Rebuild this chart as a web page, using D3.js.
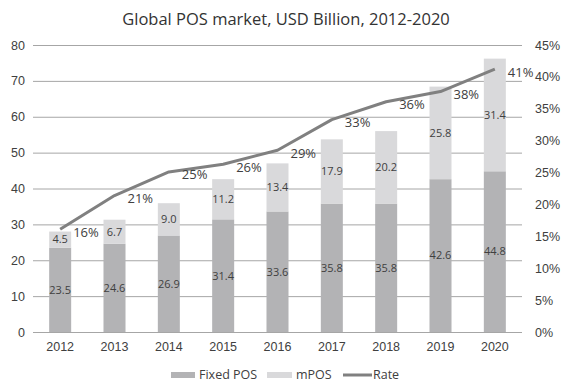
<!DOCTYPE html>
<html>
<head>
<meta charset="utf-8">
<script src="https://cdn.jsdelivr.net/npm/d3@7"></script>
<style>
  html, body { margin: 0; padding: 0; background: #fff; }
  svg { display: block; font-family: "Open Sans", "Noto Sans", sans-serif; }
</style>
</head>
<body>
<svg id="chart" width="570" height="390"></svg>
<script>
const years = ["2012","2013","2014","2015","2016","2017","2018","2019","2020"];
const fixedPOS = [23.5, 24.6, 26.9, 31.4, 33.6, 35.8, 35.8, 42.6, 44.8];
const mPOS = [4.5, 6.7, 9.0, 11.2, 13.4, 17.9, 20.2, 25.8, 31.4];
const rate = [16.1, 21.4, 25.1, 26.3, 28.5, 33.3, 36.1, 37.7, 41.2];
const rateLabels = ["16%","21%","25%","26%","29%","33%","36%","38%","41%"];
const leftTicks = [0, 10, 20, 30, 40, 50, 60, 70, 80];
const rightTicks = [0, 5, 10, 15, 20, 25, 30, 35, 40, 45];
const title = "Global POS market, USD Billion, 2012-2020";

const svg = d3.select("#chart");
const L = 33, R = 522, T = 45, B = 332;
const textColor = "#404040";
const cFixed = "#b3b3b5", cM = "#d9d9db", cLine = "#808080", cGrid = "#a6a6a6";

const x = d3.scaleBand().domain(years).range([L, R]).paddingInner(0.595).paddingOuter(0.2975);
const y = d3.scaleLinear().domain([0, 80]).range([B, T]);
const yR = d3.scaleLinear().domain([0, 45]).range([B, T]);

// title
svg.append("text").attr("x", 286).attr("y", 25).attr("text-anchor", "middle")
  .attr("font-size", 16.5).attr("fill", "#333").text(title);

// gridlines
const grid = svg.append("g").attr("transform", `translate(${L},0)`)
  .call(d3.axisLeft(y).tickValues(leftTicks).tickSize(-(R - L)).tickFormat(""));
grid.select(".domain").remove();
grid.selectAll("line").attr("stroke", cGrid).attr("stroke-width", 1);

// left axis labels
const la = svg.append("g").attr("transform", `translate(${L},0)`)
  .call(d3.axisLeft(y).tickValues(leftTicks).tickSize(0).tickPadding(8));
la.select(".domain").remove();
la.selectAll("text").attr("font-size", 12.5).attr("fill", textColor).style("font-family", "inherit");

// right axis labels
const ra = svg.append("g").attr("transform", `translate(${R},0)`)
  .call(d3.axisRight(yR).tickValues(rightTicks).tickSize(0).tickPadding(13).tickFormat(d => d + "%"));
ra.select(".domain").remove();
ra.selectAll("text").attr("font-size", 12.5).attr("fill", textColor).style("font-family", "inherit");

// x axis labels
const xa = svg.append("g").attr("transform", `translate(0,${B})`)
  .call(d3.axisBottom(x).tickSize(0).tickPadding(10));
xa.select(".domain").remove();
xa.selectAll("text").attr("font-size", 12.5).attr("fill", textColor).style("font-family", "inherit");

// bars
const bars = svg.append("g");
years.forEach((yr, i) => {
  const f = fixedPOS[i], m = mPOS[i];
  bars.append("rect").attr("x", x(yr)).attr("width", x.bandwidth())
    .attr("y", y(f)).attr("height", y(0) - y(f)).attr("fill", cFixed);
  bars.append("rect").attr("x", x(yr)).attr("width", x.bandwidth())
    .attr("y", y(f + m)).attr("height", y(f) - y(f + m)).attr("fill", cM);
  bars.append("text").attr("x", x(yr) + x.bandwidth() / 2).attr("y", y(f / 2))
    .attr("dy", "0.35em").attr("text-anchor", "middle").attr("font-size", 11)
    .attr("fill", textColor).text(f.toFixed(1));
  bars.append("text").attr("x", x(yr) + x.bandwidth() / 2).attr("y", y(f + m / 2))
    .attr("dy", "0.35em").attr("text-anchor", "middle").attr("font-size", 11)
    .attr("fill", textColor).text(m.toFixed(1));
});

// rate line
const cx = d => x(d) + x.bandwidth() / 2;
const line = d3.line().x((d, i) => cx(years[i])).y(d => yR(d));
svg.append("path").datum(rate).attr("d", line).attr("fill", "none")
  .attr("stroke", cLine).attr("stroke-width", 3).attr("stroke-linejoin", "round");

svg.append("g").selectAll("text").data(rate).join("text")
  .attr("x", (d, i) => cx(years[i]) + 13).attr("y", d => yR(d) + 3)
  .attr("dy", "0.35em").attr("font-size", 13).attr("fill", textColor)
  .text((d, i) => rateLabels[i]);

// legend
const lg = svg.append("g");
lg.append("rect").attr("x", 171).attr("y", 372).attr("width", 24).attr("height", 6).attr("fill", cFixed);
lg.append("text").attr("x", 199).attr("y", 375).attr("dy", "0.35em").attr("font-size", 12.5).attr("fill", textColor).text("Fixed POS");
lg.append("rect").attr("x", 267).attr("y", 372).attr("width", 25).attr("height", 6).attr("fill", cM);
lg.append("text").attr("x", 296).attr("y", 375).attr("dy", "0.35em").attr("font-size", 12.5).attr("fill", textColor).text("mPOS");
lg.append("line").attr("x1", 343).attr("x2", 372).attr("y1", 375).attr("y2", 375).attr("stroke", cLine).attr("stroke-width", 3);
lg.append("text").attr("x", 373).attr("y", 375).attr("dy", "0.35em").attr("font-size", 12.5).attr("fill", textColor).text("Rate");
</script>
</body>
</html>
